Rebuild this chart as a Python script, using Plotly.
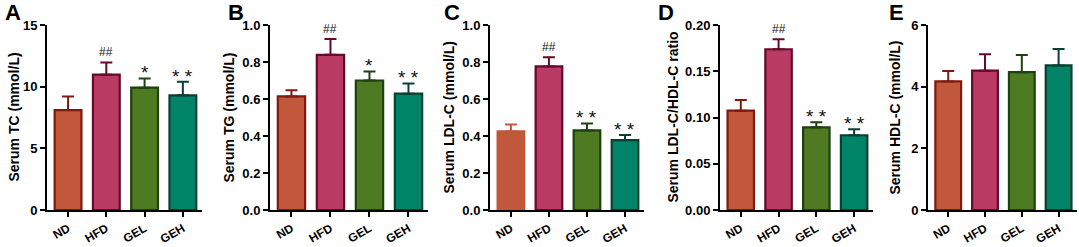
import plotly.graph_objects as go

W, H = 1079, 247

groups = ["ND", "HFD", "GEL", "GEH"]
fill_colors = ["#C1583B", "#B93A62", "#4E7A22", "#008468"]
edge_colors = ["#7E1A0E", "#650A2B", "#1F4010", "#0B3F33"]

tc_vals = [8.1, 10.97, 9.92, 9.3]
tc_errs = [1.1, 0.99, 0.75, 1.1]
tc_sig = ["", "##", "*", "**"]

tg_vals = [0.614, 0.839, 0.70, 0.629]
tg_errs = [0.033, 0.086, 0.049, 0.055]
tg_sig = ["", "##", "*", "**"]

ldl_vals = [0.425, 0.776, 0.43, 0.378]
ldl_errs = [0.037, 0.05, 0.038, 0.027]
ldl_sig = ["", "##", "**", "**"]

ratio_vals = [0.1074, 0.1738, 0.0894, 0.0808]
ratio_errs = [0.0116, 0.0108, 0.0054, 0.0065]
ratio_sig = ["", "##", "**", "**"]

hdl_vals = [4.17, 4.52, 4.47, 4.69]
hdl_errs = [0.34, 0.53, 0.56, 0.53]
hdl_sig = ["", "", "", ""]

panels = [
    dict(letter="A", title="Serum TC (mmol/L)", vals=tc_vals, errs=tc_errs, sig=tc_sig,
         yrange=[0, 15], dtick=5, fmt="d", x0=47, x1=202, lx=3, tx=13),
    dict(letter="B", title="Serum TG (mmol/L)", vals=tg_vals, errs=tg_errs, sig=tg_sig,
         yrange=[0, 1.0], dtick=0.2, fmt=".1f", x0=270, x1=428, lx=226, tx=228),
    dict(letter="C", title="Serum LDL-C (mmol/L)", vals=ldl_vals, errs=ldl_errs, sig=ldl_sig,
         yrange=[0, 1.0], dtick=0.2, fmt=".1f", x0=490, x1=644, lx=442, tx=448),
    dict(letter="D", title="Serum LDL-C/HDL-C ratio", vals=ratio_vals, errs=ratio_errs, sig=ratio_sig,
         yrange=[0, 0.2], dtick=0.05, fmt=".2f", x0=720, x1=873, lx=656, tx=672),
    dict(letter="E", title="Serum HDL-C (mmol/L)", vals=hdl_vals, errs=hdl_errs, sig=hdl_sig,
         yrange=[0, 6], dtick=2, fmt="d", x0=928, x1=1077, lx=887, tx=894),
]

y_top_px, y_bot_px = 25, 210
ydom = [(H - y_bot_px) / H, (H - y_top_px) / H]

fig = go.Figure()
FONT = "Liberation Sans, Arial, sans-serif"
annotations = []

for i, p in enumerate(panels):
    n = "" if i == 0 else str(i + 1)
    xa, ya = "x" + n, "y" + n
    edges = list(edge_colors)
    if p["letter"] == "C":
        edges[0] = fill_colors[0]
    for j, g in enumerate(groups):
        fig.add_trace(go.Bar(
            x=[g], y=[p["vals"][j]], xaxis=xa, yaxis=ya,
            marker=dict(color=fill_colors[j], line=dict(color=edges[j], width=2.2)),
            error_y=dict(type="data", symmetric=False, array=[p["errs"][j]], arrayminus=[0],
                         color=edges[j], thickness=2, width=6),
            width=0.7, showlegend=False, hoverinfo="skip",
        ))
        s = p["sig"][j]
        if s:
            top = p["vals"][j] + p["errs"][j]
            if s.startswith("#"):
                annotations.append(dict(x=g, y=top, xref=xa, yref=ya, text=s, showarrow=False,
                                        yanchor="bottom", yshift=1,
                                        font=dict(family=FONT, size=12, color="#111")))
            else:
                annotations.append(dict(x=g, y=top, xref=xa, yref=ya, text=" ".join(s),
                                        showarrow=False, yanchor="bottom", yshift=-7,
                                        font=dict(family=FONT, size=19, color="#111")))
    axis_common = dict(showline=True, linecolor="black", linewidth=2, ticks="outside",
                       ticklen=5, tickwidth=2, tickcolor="black", showgrid=False, zeroline=False,
                       automargin=False)
    fig.update_layout(**{
        ("xaxis" + n): dict(domain=[p["x0"] / W, p["x1"] / W], anchor=ya, range=[-0.55, 3.5],
                            tickangle=-30, categoryorder="array", categoryarray=groups,
                            tickfont=dict(family=FONT, size=12, color="black", weight="bold"),
                            **axis_common),
        ("yaxis" + n): dict(domain=ydom, anchor=xa, range=p["yrange"], dtick=p["dtick"],
                            tickformat=p["fmt"],
                            tickfont=dict(family=FONT, size=13, color="black", weight="bold"),
                            **axis_common),
    })
    annotations.append(dict(x=p["lx"] / W, y=1.0, xref="paper", yref="paper", text=p["letter"],
                            showarrow=False, xanchor="left", yanchor="top", yshift=2,
                            font=dict(family=FONT, size=22, color="black", weight="bold")))
    annotations.append(dict(x=p["tx"] / W, y=(ydom[0] + ydom[1]) / 2, xref="paper", yref="paper",
                            text=p["title"], showarrow=False, textangle=-90,
                            xanchor="center", yanchor="middle",
                            font=dict(family=FONT, size=14, color="black", weight="bold")))

fig.update_layout(width=W, height=H, margin=dict(l=0, r=0, t=0, b=0),
                  paper_bgcolor="white", plot_bgcolor="white", bargap=0.3,
                  hovermode=False, annotations=annotations)

fig.write_html("out.html", config={"displayModeBar": False, "staticPlot": True},
               post_script="document.body.style.margin='0';document.body.style.overflow='hidden';")
